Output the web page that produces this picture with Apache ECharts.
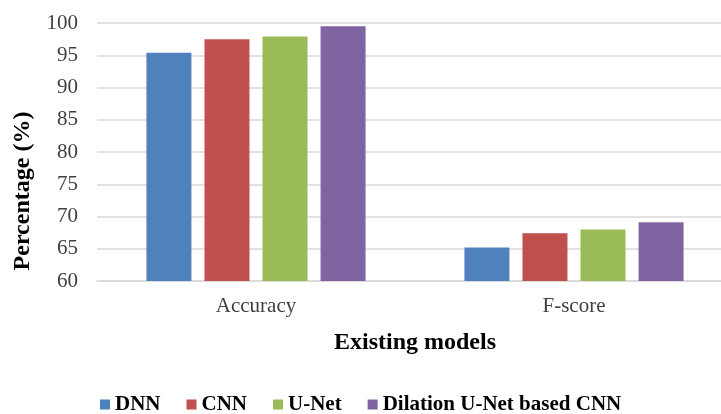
<!DOCTYPE html>
<html>
<head>
<meta charset="utf-8">
<script src="https://cdn.jsdelivr.net/npm/echarts@6/dist/echarts.min.js"></script>
<style>
  html, body { margin: 0; padding: 0; background: #fff; overflow: hidden; }
  /* plot area runs past the right edge of the window, so the canvas is wider */
  #chart { width: 740px; height: 414px; }
</style>
</head>
<body>
<div id="chart"></div>
<script>
// Metric groups on the x axis
const categories = ['Accuracy', 'F-score'];
// Scores (%) per model
const dnn = [95.4, 65.2];
const cnn = [97.5, 67.4];
const unet = [97.9, 68.0];
const dilationUnet = [99.5, 69.1];
const seriesNames = ['DNN', 'CNN', 'U-Net', 'Dilation U-Net based CNN'];
const colors = ['#4F81BD', '#C0504D', '#9BBB59', '#8064A2'];
const yTicks = { min: 60, max: 100, step: 5 };

const serif = '"Liberation Serif", "Times New Roman", serif';
const chart = echarts.init(document.getElementById('chart'));

const values = [dnn, cnn, unet, dilationUnet];
const series = seriesNames.map((name, i) => ({
  name: name,
  type: 'bar',
  data: values[i],
  barWidth: 45,
  barGap: '29%',
  itemStyle: { color: colors[i] }
}));

chart.setOption({
  animation: false,
  grid: { left: 97, top: 23, width: 636, height: 258, containLabel: false },
  legend: {
    data: seriesNames,
    top: 389,
    left: 95,
    icon: 'rect',
    itemWidth: 10,
    itemHeight: 10,
    itemGap: 26,
    textStyle: { fontFamily: serif, fontWeight: 'bold', fontSize: 21, color: '#000' }
  },
  graphic: [{
    type: 'text',
    x: 23,
    y: 191,
    rotation: Math.PI / 2,
    style: {
      text: 'Percentage (%)',
      font: 'bold 24px ' + serif,
      fill: '#000',
      align: 'center',
      verticalAlign: 'middle'
    }
  }],
  xAxis: {
    type: 'category',
    data: categories,
    name: 'Existing models',
    nameLocation: 'middle',
    nameGap: 50,
    nameTextStyle: { fontFamily: serif, fontWeight: 'bold', fontSize: 24, color: '#000' },
    axisLine: { lineStyle: { color: '#d9d9d9', width: 1.5 } },
    axisTick: { show: false },
    axisLabel: { fontFamily: serif, fontSize: 21, color: '#404040', margin: 15 }
  },
  yAxis: {
    type: 'value',
    min: yTicks.min,
    max: yTicks.max,
    interval: yTicks.step,
    axisLine: { show: false },
    axisTick: { show: false },
    axisLabel: { fontFamily: serif, fontSize: 21, color: '#404040', margin: 19 },
    splitLine: { lineStyle: { color: '#d9d9d9', width: 1.5 } }
  },
  series: series
});
</script>
</body>
</html>
